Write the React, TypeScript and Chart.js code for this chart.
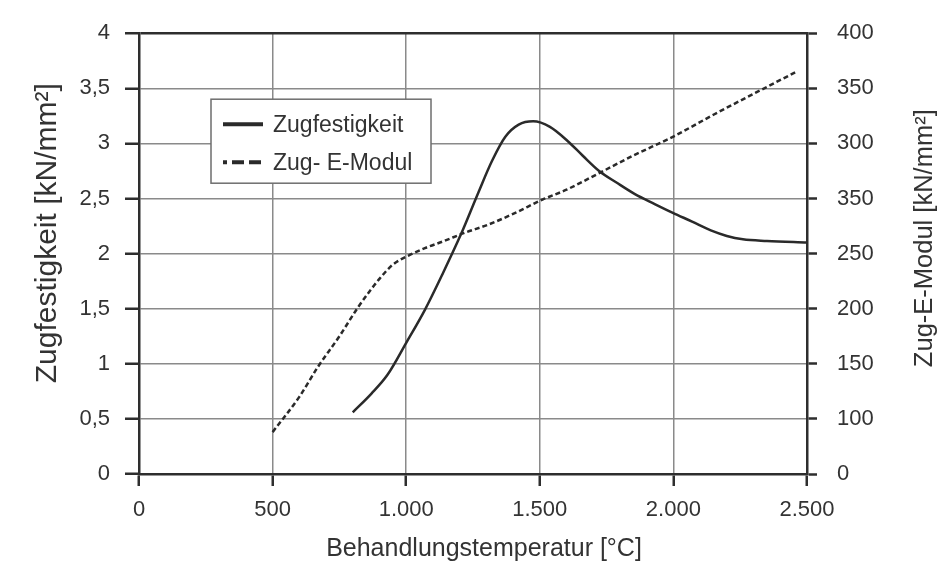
import React, { useEffect, useRef } from "react";
import { Chart, registerables } from "chart.js";

Chart.register(...registerables);

// ---- data ----
const temperatureTickLabels = ["0", "500", "1.000", "1.500", "2.000", "2.500"];
const strengthTickLabels = ["0", "0,5", "1", "1,5", "2", "2,5", "3", "3,5", "4"];
const modulusTickLabels = ["0", "100", "150", "200", "250", "350", "300", "350", "400"];

const seriesLabels = ["Zugfestigkeit", "Zug- E-Modul"];
const xTitle = "Behandlungstemperatur [°C]";
const yLeftTitle = "Zugfestigkeit [kN/mm²]";
const yRightTitle = "Zug-E-Modul [kN/mm²]";

// Zugfestigkeit [kN/mm²] vs Behandlungstemperatur [°C]
const strengthTemps = [800, 870, 930, 1000, 1070, 1137, 1204, 1271, 1321, 1371, 1421, 1475, 1538, 1605, 1660, 1722, 1790, 1856, 1930, 1998, 2070, 2140, 2200, 2260, 2350, 2500];
const strengthValues = [0.56, 0.73, 0.9, 1.19, 1.49, 1.82, 2.17, 2.56, 2.84, 3.06, 3.17, 3.2, 3.15, 3.02, 2.89, 2.75, 2.64, 2.54, 2.45, 2.37, 2.29, 2.21, 2.16, 2.13, 2.115, 2.1];

// Zug-E-Modul (position on right axis scale) vs Behandlungstemperatur [°C]
const modulusTemps = [500, 600, 669, 750, 819, 870, 903, 950, 1007, 1070, 1137, 1220, 1304, 1400, 1510, 1600, 1722, 1850, 1998, 2150, 2308, 2460];
const modulusValues = [38, 70, 97, 125, 151, 168, 178, 190, 198, 205, 211, 219, 226, 236, 249, 258, 273, 289, 306, 326, 346, 365];

const FONT = "'Liberation Sans', Arial, Helvetica, sans-serif";
const TEXT = "#333333";
const AXIS = "#2e2e2e";
const GRID = "#8a8a8a";

const boxLegend = {
  id: "boxLegend",
  afterDatasetsDraw(chart: any) {
    const { ctx, chartArea } = chart;
    const left = chartArea.left + 72;
    const top = chartArea.top + 66;
    const w = 220;
    const h = 84;
    ctx.save();
    ctx.fillStyle = "#ffffff";
    ctx.fillRect(left, top, w, h);
    ctx.strokeStyle = "#6e6e6e";
    ctx.lineWidth = 1.5;
    ctx.strokeRect(left, top, w, h);
    chart.data.datasets.forEach((ds: any, i: number) => {
      const y = top + 25 + i * 38;
      ctx.beginPath();
      if (ds.borderDash && ds.borderDash.length) {
        ctx.setLineDash([12, 5]);
        ctx.lineDashOffset = 8;
      } else {
        ctx.setLineDash([]);
      }
      ctx.lineWidth = 4;
      ctx.strokeStyle = ds.borderColor;
      ctx.moveTo(left + 12, y);
      ctx.lineTo(left + 52, y);
      ctx.stroke();
      ctx.setLineDash([]);
      ctx.fillStyle = TEXT;
      ctx.font = `23px ${FONT}`;
      ctx.textBaseline = "middle";
      ctx.textAlign = "left";
      ctx.fillText(ds.label, left + 62, y + 1);
    });
    ctx.restore();
  },
};

const axisTitles = {
  id: "axisTitles",
  afterDraw(chart: any) {
    const { ctx, chartArea } = chart;
    ctx.save();
    ctx.fillStyle = TEXT;
    ctx.textAlign = "center";
    ctx.textBaseline = "middle";
    ctx.font = `25px ${FONT}`;
    ctx.fillText(xTitle, chartArea.left + 345, chartArea.bottom + 75);

    ctx.save();
    ctx.translate(48, chartArea.top + 200);
    ctx.rotate(-Math.PI / 2);
    ctx.font = `30px ${FONT}`;
    ctx.fillText(yLeftTitle, 0, 0);
    ctx.restore();

    ctx.save();
    ctx.translate(925, chartArea.top + 205);
    ctx.rotate(-Math.PI / 2);
    ctx.font = `25.5px ${FONT}`;
    ctx.fillText(yRightTitle, 0, 0);
    ctx.restore();
    ctx.restore();
  },
};

export default function App() {
  const canvasRef = useRef<HTMLCanvasElement | null>(null);

  useEffect(() => {
    if (!canvasRef.current) return;
    const strengthData = strengthTemps.map((x, i) => ({ x, y: strengthValues[i] }));
    const modulusData = modulusTemps.map((x, i) => ({ x, y: modulusValues[i] }));

    const chart = new Chart(canvasRef.current, {
      type: "line",
      data: {
        datasets: [
          {
            label: seriesLabels[0],
            data: strengthData,
            yAxisID: "y",
            borderColor: "#2a2a2a",
            borderWidth: 2.5,
            pointRadius: 0,
            cubicInterpolationMode: "monotone",
            fill: false,
          },
          {
            label: seriesLabels[1],
            data: modulusData,
            yAxisID: "y2",
            borderColor: "#2a2a2a",
            borderWidth: 2.5,
            borderDash: [5, 3],
            pointRadius: 0,
            cubicInterpolationMode: "monotone",
            fill: false,
          },
        ],
      },
      options: {
        animation: false,
        responsive: false,
        devicePixelRatio: 1,
        layout: { padding: { top: 31, left: 0, right: 0, bottom: 0 } },
        plugins: {
          legend: { display: false },
          tooltip: { enabled: false },
        },
        scales: {
          x: {
            type: "linear",
            position: "bottom",
            min: 0,
            max: 2500,
            ticks: {
              stepSize: 500,
              color: TEXT,
              font: { family: FONT, size: 22 },
              padding: 11,
              callback: (_v: any, i: number) => temperatureTickLabels[i],
            },
            grid: {
              color: GRID,
              lineWidth: 1.5,
              tickLength: 12,
              tickColor: AXIS,
              tickWidth: 2.5,
            },
            border: { color: AXIS, width: 2.5 },
            title: { display: false },
            afterFit: (s: any) => {
              s.height = 90;
            },
          },
          y: {
            type: "linear",
            position: "left",
            min: 0,
            max: 4,
            ticks: {
              stepSize: 0.5,
              color: TEXT,
              font: { family: FONT, size: 22 },
              padding: 15,
              callback: (_v: any, i: number) => strengthTickLabels[i],
            },
            grid: {
              color: (c: any) => (c.tick && c.tick.value === 4 ? AXIS : GRID),
              lineWidth: (c: any) => (c.tick && c.tick.value === 4 ? 2.5 : 1.5),
              tickLength: 14,
              tickColor: AXIS,
              tickWidth: 2.5,
            },
            border: { color: AXIS, width: 2.5 },
            title: { display: false },
            afterFit: (s: any) => {
              s.width = 139;
            },
          },
          y2: {
            type: "linear",
            position: "right",
            min: 0,
            max: 400,
            ticks: {
              stepSize: 50,
              color: TEXT,
              font: { family: FONT, size: 22 },
              padding: 20,
              callback: (_v: any, i: number) => modulusTickLabels[i],
            },
            grid: {
              drawOnChartArea: false,
              tickLength: 10,
              tickColor: AXIS,
              tickWidth: 2.5,
            },
            border: { color: AXIS, width: 2.5 },
            title: { display: false },
            afterFit: (s: any) => {
              s.width = 131;
            },
          },
        },
      },
      plugins: [boxLegend, axisTitles],
    });
    return () => chart.destroy();
  }, []);

  return (
    <div style={{ position: "absolute", left: 0, top: 0, width: 938, height: 564, background: "#ffffff" }}>
      <canvas ref={canvasRef} width={938} height={564} />
    </div>
  );
}
